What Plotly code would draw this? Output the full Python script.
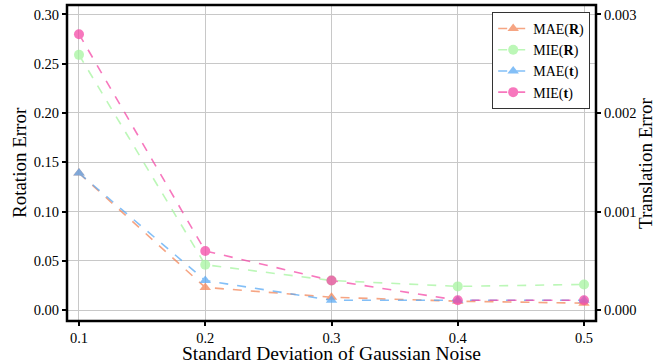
import plotly.graph_objects as go

noise = [0.1, 0.2, 0.3, 0.4, 0.5]
mae_R = [0.139, 0.023, 0.013, 0.009, 0.007]
mie_R = [0.259, 0.046, 0.030, 0.024, 0.026]
mae_t = [0.00139, 0.00030, 0.00010, 0.00010, 0.00010]
mie_t = [0.00280, 0.00060, 0.00030, 0.00010, 0.00010]

x_ticks = [0.1, 0.2, 0.3, 0.4, 0.5]
y1_ticks = [0.00, 0.05, 0.10, 0.15, 0.20, 0.25, 0.30]
y2_ticks = [0.000, 0.001, 0.002, 0.003]

FONT = "Liberation Serif"

fig = go.Figure()
series = [
    ("MAE(<b>R</b>)", mae_R, "y", "#f4875a", "triangle-up"),
    ("MIE(<b>R</b>)", mie_R, "y", "#a6f5a0", "circle"),
    ("MAE(<b>t</b>)", mae_t, "y2", "#5aaaf5", "triangle-up"),
    ("MIE(<b>t</b>)", mie_t, "y2", "#f54aa8", "circle"),
]
for name, vals, ax, col, sym in series:
    fig.add_trace(go.Scatter(
        x=noise, y=vals, name=name, yaxis=ax, mode="lines+markers",
        line=dict(color=col, dash="dash", width=1.6),
        marker=dict(symbol=sym, size=10, color=col),
        opacity=0.75,
    ))

tick_common = dict(ticks="outside", ticklen=4, tickwidth=1.5, tickcolor="black",
                   zeroline=False, tickfont=dict(family=FONT, size=14.5, color="black"))

fig.update_layout(
    width=657, height=364,
    margin=dict(l=67, r=61, t=5, b=43, autoexpand=False),
    plot_bgcolor="white", paper_bgcolor="white",
    font=dict(family=FONT, size=15, color="black"),
    showlegend=True,
    legend=dict(x=0.989, y=0.978, xanchor="right", yanchor="top",
                bgcolor="white", bordercolor="#333333", borderwidth=1,
                font=dict(family=FONT, size=14), tracegroupgap=0,
                itemwidth=30),
    xaxis=dict(range=[0.0905, 0.5095], tickvals=x_ticks,
               ticktext=[str(v) for v in x_ticks],
               showgrid=True, gridcolor="#c8c8c8", gridwidth=1,
               showline=False, **tick_common),
    yaxis=dict(range=[-0.0111, 0.3096], tickvals=y1_ticks,
               ticktext=["%.2f" % v for v in y1_ticks],
               showgrid=True, gridcolor="#c8c8c8", gridwidth=1,
               showline=False, **tick_common),
    yaxis2=dict(range=[-0.000111, 0.003096], tickvals=y2_ticks,
                ticktext=["%.3f" % v for v in y2_ticks],
                overlaying="y", side="right", showgrid=False,
                showline=False, **tick_common),
    shapes=[dict(type="rect", xref="paper", yref="paper", x0=0, y0=0, x1=1, y1=1,
                 line=dict(color="black", width=2.5), layer="above")],
    annotations=[
        dict(text="Standard Deviation of Gaussian Noise", xref="paper", yref="paper",
             x=0.5, y=-0.142, xanchor="center", yanchor="bottom", showarrow=False,
             font=dict(family=FONT, size=19.5)),
        dict(text="Rotation Error", xref="paper", yref="paper",
             x=-0.0907, y=0.5, xanchor="center", yanchor="middle", showarrow=False,
             textangle=-90, font=dict(family=FONT, size=19)),
        dict(text="Translation Error", xref="paper", yref="paper",
             x=1.0926, y=0.5, xanchor="center", yanchor="middle", showarrow=False,
             textangle=-90, font=dict(family=FONT, size=19)),
    ],
)

fig.write_html("out.html", config={"displayModeBar": False},
               post_script="document.body.style.margin='0';document.body.style.padding='0';")
